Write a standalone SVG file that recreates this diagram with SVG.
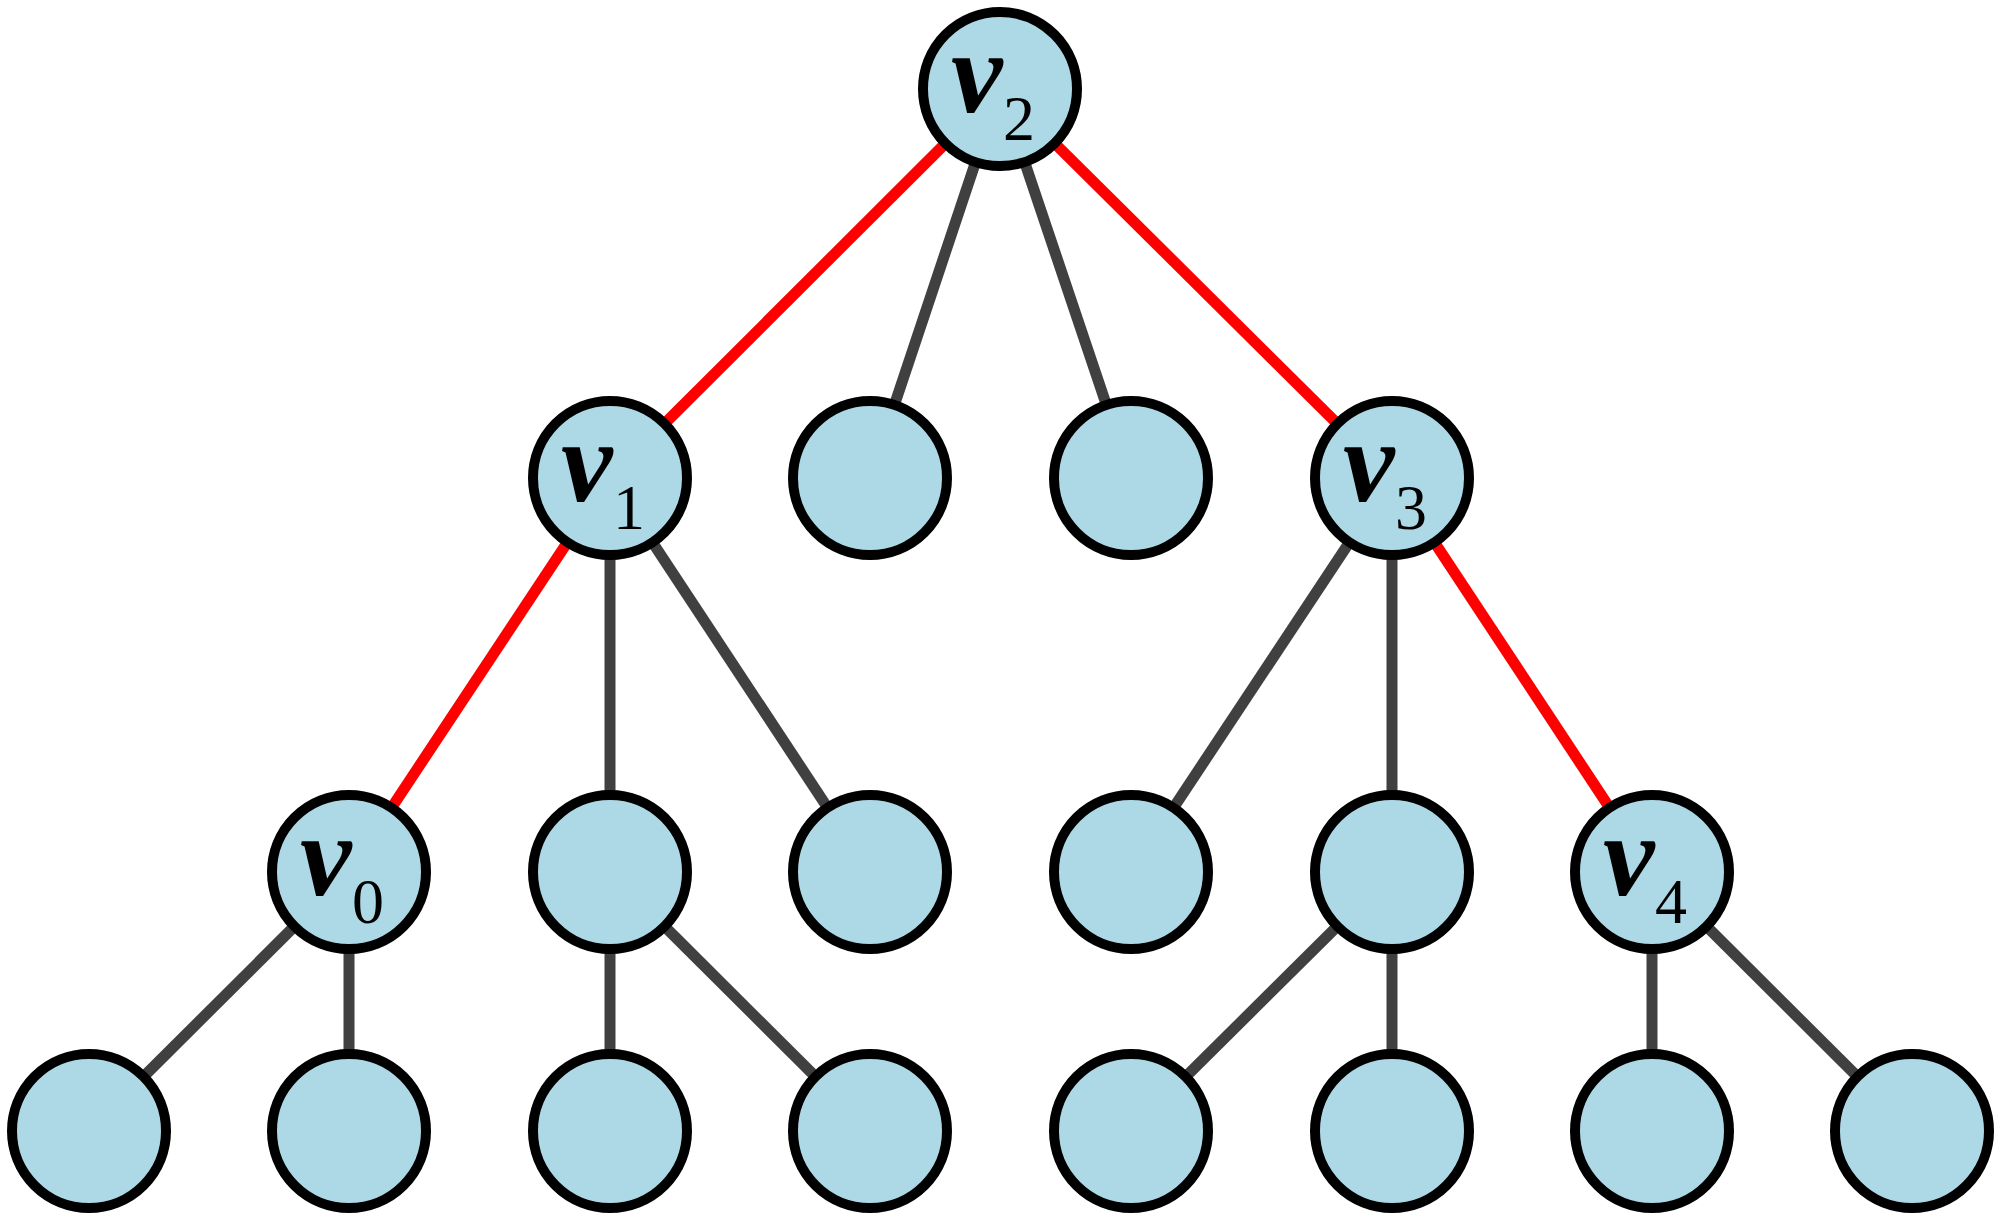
<svg xmlns="http://www.w3.org/2000/svg" width="2000" height="1222" viewBox="0 0 2000 1222">
<style>
.n{fill:#add8e6;stroke:#000;stroke-width:10}
.e{stroke:#404040;stroke-width:11;fill:none}
.r{stroke:#ff0000;stroke-width:11;fill:none}
.v{font-family:"Liberation Serif",serif;font-weight:bold;font-style:italic;font-size:116px;fill:#000}
.s{font-family:"Liberation Serif",serif;font-size:64px;fill:#000}
</style>
<rect width="2000" height="1222" fill="#fff"/>
<g id="edges">
<line class="r" x1="1000" y1="89" x2="610" y2="478"/>
<line class="e" x1="1000" y1="89" x2="870" y2="478"/>
<line class="e" x1="1000" y1="89" x2="1131" y2="478"/>
<line class="r" x1="1000" y1="89" x2="1392" y2="478"/>
<line class="r" x1="610" y1="478" x2="349" y2="872"/>
<line class="e" x1="610" y1="478" x2="610" y2="872"/>
<line class="e" x1="610" y1="478" x2="870" y2="872"/>
<line class="e" x1="1392" y1="478" x2="1131" y2="872"/>
<line class="e" x1="1392" y1="478" x2="1392" y2="872"/>
<line class="r" x1="1392" y1="478" x2="1652" y2="872"/>
<line class="e" x1="349" y1="872" x2="89" y2="1131"/>
<line class="e" x1="349" y1="872" x2="349" y2="1131"/>
<line class="e" x1="610" y1="872" x2="610" y2="1131"/>
<line class="e" x1="610" y1="872" x2="870" y2="1131"/>
<line class="e" x1="1392" y1="872" x2="1131" y2="1131"/>
<line class="e" x1="1392" y1="872" x2="1392" y2="1131"/>
<line class="e" x1="1652" y1="872" x2="1652" y2="1131"/>
<line class="e" x1="1652" y1="872" x2="1912" y2="1131"/>
</g>
<g id="v2"><circle class="n" cx="1000" cy="89" r="77"/><text class="v" x="951" y="112">v</text><text class="s" x="1003" y="140">2</text></g>
<g id="v1"><circle class="n" cx="610" cy="478" r="77"/><text class="v" x="561" y="501">v</text><text class="s" x="613" y="529">1</text></g>
<g id="n1"><circle class="n" cx="870" cy="478" r="77"/></g>
<g id="n2"><circle class="n" cx="1131" cy="478" r="77"/></g>
<g id="v3"><circle class="n" cx="1392" cy="478" r="77"/><text class="v" x="1343" y="501">v</text><text class="s" x="1395" y="529">3</text></g>
<g id="v0"><circle class="n" cx="349" cy="872" r="77"/><text class="v" x="300" y="895">v</text><text class="s" x="352" y="923">0</text></g>
<g id="n3"><circle class="n" cx="610" cy="872" r="77"/></g>
<g id="n4"><circle class="n" cx="870" cy="872" r="77"/></g>
<g id="n5"><circle class="n" cx="1131" cy="872" r="77"/></g>
<g id="n6"><circle class="n" cx="1392" cy="872" r="77"/></g>
<g id="v4"><circle class="n" cx="1652" cy="872" r="77"/><text class="v" x="1603" y="895">v</text><text class="s" x="1655" y="923">4</text></g>
<g id="b0"><circle class="n" cx="89" cy="1131" r="77"/></g>
<g id="b1"><circle class="n" cx="349" cy="1131" r="77"/></g>
<g id="b2"><circle class="n" cx="610" cy="1131" r="77"/></g>
<g id="b3"><circle class="n" cx="870" cy="1131" r="77"/></g>
<g id="b4"><circle class="n" cx="1131" cy="1131" r="77"/></g>
<g id="b5"><circle class="n" cx="1392" cy="1131" r="77"/></g>
<g id="b6"><circle class="n" cx="1652" cy="1131" r="77"/></g>
<g id="b7"><circle class="n" cx="1912" cy="1131" r="77"/></g>
</svg>
